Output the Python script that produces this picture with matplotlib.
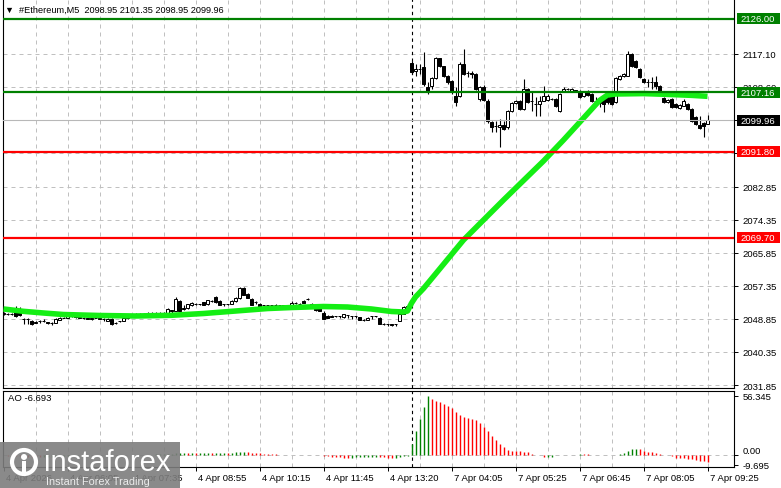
import matplotlib.pyplot as plt
from matplotlib.patches import Rectangle, Ellipse
from matplotlib.transforms import ScaledTranslation, blended_transform_factory

plt.rcParams['font.family'] = ['Liberation Sans', 'DejaVu Sans']
plt.rcParams['font.size'] = 6.8

# === Datos (ETH M5, 177 velas) ===
opens = [
    2050.11, 2050.11, 2050.2, 2050.63, 2051.1, 2048.9, 2048.8, 2048.3, 2047.9, 2048.2,
    2048.3, 2048.0, 2047.8, 2047.9, 2048.6, 2049.1, 2049.1, 2049.5, 2049.7, 2049.4,
    2049.2, 2049.0, 2048.7, 2049.2, 2049.1, 2048.8, 2048.3, 2048.8, 2047.7, 2048.2,
    2048.3, 2049.0, 2049.4, 2049.9, 2050.1, 2050.0, 2050.2, 2050.3, 2050.4, 2050.4,
    2050.4, 2050.4, 2051.1, 2050.9, 2053.5, 2051.5, 2051.6, 2052.3, 2052.7, 2052.7,
    2053.2, 2052.6, 2053.5, 2054.5, 2053.4, 2052.6, 2052.6, 2052.7, 2053.4, 2054.2,
    2056.8, 2055.2, 2054.0, 2053.1, 2052.7, 2052.4, 2052.4, 2052.3, 2052.4, 2052.4,
    2052.3, 2052.1, 2052.2, 2052.9, 2052.8, 2053.4, 2053.9, 2052.7, 2051.9, 2051.6,
    2050.4, 2049.6, 2049.7, 2049.5, 2049.6, 2049.3, 2049.8, 2049.6, 2049.5, 2049.3,
    2048.6, 2048.6, 2049.6, 2049.5, 2049.1, 2047.6, 2047.5, 2047.5, 2047.5, 2048.3,
    2050.1, 2052.0, 2114.67, 2112.6, 2113.1, 2113.56, 2108.4, 2108.68, 2110.73, 2115.88,
    2113.8, 2111.4, 2110.1, 2106.26, 2106.26, 2114.41, 2112.0, 2112.0, 2111.84, 2105.41,
    2108.5, 2104.9, 2099.5, 2098.5, 2098.2, 2098.7, 2098.2, 2102.3, 2104.4, 2104.9,
    2102.8, 2107.98, 2105.0, 2104.2, 2104.1, 2105.0, 2105.2, 2105.5, 2105.4, 2102.4,
    2107.55, 2108.0, 2107.4, 2107.6, 2107.55, 2106.2, 2107.5, 2106.7, 2105.0, 2104.6,
    2106.26, 2105.85, 2106.26, 2104.55, 2110.5, 2111.3, 2111.4, 2116.98, 2115.3, 2113.13,
    2110.55, 2109.7, 2109.9, 2109.7, 2108.83, 2105.6, 2104.55, 2105.41, 2104.12, 2103.0,
    2103.7, 2104.12, 2102.84, 2100.7, 2098.72, 2099.2, 2098.95,
]
highs = [
    2050.63, 2050.37, 2050.4, 2052.17, 2051.9, 2049.1, 2049.0, 2048.6, 2048.2, 2048.6,
    2048.7, 2048.1, 2048.0, 2049.0, 2049.3, 2049.3, 2049.8, 2050.0, 2049.9, 2049.6,
    2049.3, 2049.2, 2049.3, 2049.4, 2049.2, 2049.1, 2049.1, 2049.0, 2048.1, 2048.4,
    2049.2, 2049.7, 2050.1, 2050.3, 2050.3, 2050.4, 2050.5, 2050.6, 2050.5, 2050.5,
    2050.6, 2051.6, 2051.2, 2054.5, 2053.7, 2052.3, 2052.8, 2053.1, 2053.0, 2052.8,
    2053.3, 2053.8, 2053.6, 2054.8, 2053.6, 2052.8, 2052.8, 2053.6, 2054.4, 2057.0,
    2057.0, 2055.4, 2054.2, 2053.5, 2052.9, 2052.5, 2052.5, 2052.5, 2052.6, 2052.5,
    2052.4, 2052.5, 2053.4, 2053.3, 2052.9, 2053.6, 2054.1, 2052.9, 2052.0, 2051.8,
    2050.9, 2049.8, 2049.8, 2049.7, 2049.7, 2050.2, 2049.9, 2049.7, 2049.6, 2049.4,
    2048.7, 2049.3, 2049.7, 2049.7, 2049.3, 2047.7, 2047.6, 2047.6, 2047.6, 2050.4,
    2052.2, 2052.7, 2115.18, 2114.4, 2114.4, 2117.42, 2109.7, 2110.99, 2116.14, 2116.0,
    2114.0, 2111.6, 2110.4, 2108.42, 2114.84, 2118.27, 2112.6, 2112.6, 2112.1, 2108.8,
    2108.9, 2105.4, 2099.8, 2099.75, 2100.3, 2099.7, 2102.5, 2104.6, 2105.2, 2105.1,
    2110.55, 2108.2, 2107.2, 2105.9, 2106.2, 2108.75, 2106.6, 2105.7, 2105.6, 2106.9,
    2108.4, 2108.2, 2108.3, 2107.8, 2107.8, 2107.4, 2107.8, 2107.0, 2105.9, 2105.4,
    2106.6, 2106.0, 2106.5, 2111.0, 2111.7, 2112.1, 2117.8, 2117.2, 2115.5, 2113.4,
    2110.8, 2110.5, 2111.0, 2111.4, 2109.1, 2105.9, 2105.5, 2105.7, 2104.4, 2104.1,
    2105.3, 2104.4, 2103.1, 2101.0, 2101.1, 2099.5, 2101.35,
]
lows = [
    2049.85, 2049.85, 2049.9, 2049.34, 2049.6, 2047.5, 2047.6, 2047.2, 2047.8, 2047.9,
    2048.0, 2047.6, 2047.2, 2047.7, 2048.5, 2049.0, 2049.0, 2049.3, 2049.2, 2049.0,
    2048.8, 2048.8, 2048.6, 2049.0, 2048.7, 2048.4, 2048.2, 2047.3, 2047.5, 2048.1,
    2048.2, 2048.9, 2049.3, 2049.8, 2049.8, 2049.9, 2050.0, 2050.2, 2050.2, 2049.9,
    2050.1, 2050.3, 2050.1, 2050.8, 2050.9, 2051.2, 2051.5, 2052.2, 2052.4, 2052.5,
    2052.3, 2052.5, 2053.3, 2053.0, 2052.4, 2052.1, 2052.5, 2052.6, 2053.3, 2054.0,
    2054.9, 2054.1, 2052.3, 2052.8, 2051.8, 2051.9, 2052.2, 2052.2, 2052.3, 2052.2,
    2051.9, 2052.0, 2052.1, 2052.7, 2052.6, 2052.9, 2053.8, 2051.8, 2051.0, 2050.8,
    2048.8, 2049.0, 2049.3, 2049.4, 2049.0, 2049.2, 2049.1, 2048.8, 2049.0, 2048.5,
    2048.4, 2048.5, 2048.8, 2049.4, 2047.5, 2047.4, 2047.0, 2047.0, 2046.9, 2048.2,
    2050.0, 2051.8, 2111.84, 2111.3, 2111.8, 2108.83, 2106.7, 2107.98, 2110.5, 2113.7,
    2111.1, 2109.3, 2106.8, 2103.69, 2105.9, 2111.5, 2111.0, 2110.8, 2107.7, 2104.9,
    2104.9, 2099.2, 2096.9, 2096.9, 2093.06, 2097.5, 2097.6, 2102.0, 2104.2, 2102.5,
    2102.6, 2104.4, 2102.3, 2101.0, 2101.0, 2104.8, 2105.0, 2105.2, 2103.4, 2102.0,
    2107.3, 2107.7, 2107.2, 2107.3, 2105.6, 2106.0, 2106.2, 2104.6, 2104.1, 2103.3,
    2102.07, 2104.2, 2103.9, 2104.3, 2110.3, 2111.1, 2111.2, 2113.7, 2113.3, 2110.7,
    2109.4, 2108.5, 2107.98, 2107.98, 2106.8, 2104.4, 2104.3, 2103.0, 2103.0, 2102.8,
    2103.5, 2102.6, 2099.5, 2098.7, 2097.7, 2095.56, 2098.95,
]
closes = [
    2050.37, 2050.11, 2050.0, 2049.60, 2049.85, 2048.8, 2048.7, 2047.5, 2048.0, 2048.3,
    2048.4, 2047.8, 2047.9, 2048.8, 2049.1, 2049.1, 2049.5, 2049.7, 2049.4, 2049.2,
    2049.0, 2048.9, 2049.2, 2049.1, 2048.9, 2048.8, 2048.9, 2047.6, 2047.8, 2048.3,
    2049.0, 2049.4, 2049.9, 2050.1, 2050.0, 2050.2, 2050.3, 2050.4, 2050.3, 2050.3,
    2050.3, 2051.4, 2051.0, 2054.0, 2051.0, 2051.6, 2052.6, 2052.9, 2052.7, 2052.6,
    2052.5, 2053.6, 2053.4, 2053.2, 2052.5, 2052.6, 2052.7, 2053.4, 2054.2, 2056.8,
    2055.0, 2054.2, 2052.4, 2053.2, 2051.9, 2052.4, 2052.3, 2052.4, 2052.4, 2052.3,
    2052.1, 2052.3, 2052.9, 2053.0, 2052.7, 2053.0, 2054.0, 2051.9, 2051.2, 2050.9,
    2048.8, 2049.1, 2049.4, 2049.6, 2049.5, 2050.0, 2049.8, 2049.5, 2049.5, 2048.6,
    2048.6, 2049.1, 2049.5, 2049.6, 2047.6, 2047.5, 2047.5, 2047.4, 2047.5, 2050.1,
    2051.8, 2052.2, 2112.43, 2113.1, 2113.1, 2109.27, 2107.55, 2110.73, 2115.88, 2113.98,
    2111.4, 2109.7, 2107.1, 2104.72, 2114.41, 2111.84, 2112.0, 2111.9, 2107.98, 2108.5,
    2105.2, 2099.75, 2098.2, 2098.4, 2098.7, 2097.7, 2102.3, 2104.4, 2104.9, 2102.8,
    2107.98, 2104.64, 2105.0, 2104.1, 2105.0, 2106.3, 2106.3, 2105.4, 2103.7, 2106.7,
    2107.98, 2107.9, 2108.0, 2107.5, 2105.85, 2107.1, 2106.4, 2105.0, 2105.0, 2104.5,
    2104.1, 2104.55, 2104.12, 2110.73, 2111.4, 2111.84, 2116.98, 2113.98, 2113.56, 2110.99,
    2109.7, 2109.7, 2109.8, 2108.83, 2107.13, 2104.72, 2105.23, 2103.27, 2103.27, 2103.87,
    2104.98, 2102.84, 2099.83, 2098.98, 2097.87, 2098.4, 2099.96,
]

# Media móvil (puntos leídos sobre la línea verde)
ma_idx = [0, 5, 10, 15, 24, 33, 42, 50, 58, 66, 72, 80, 86, 92, 97, 100, 101,
          102, 103, 105, 110, 115, 120, 125, 130, 135, 140, 144, 147, 149, 151,
          153, 160, 166, 172, 176]
ma_val = [2051.4, 2050.8, 2050.37, 2049.98, 2049.73, 2049.60, 2049.78, 2050.24,
          2050.88, 2051.52, 2051.78, 2052.04, 2051.91, 2051.40, 2050.76, 2050.63,
          2050.88, 2052.9, 2054.49, 2056.67, 2062.90, 2069.14, 2074.29, 2079.43,
          2084.45, 2089.46, 2094.86, 2099.37, 2102.76, 2105.02, 2106.44, 2106.7,
          2106.8, 2106.6, 2106.35, 2106.1]

# Awesome Oscillator
ao = [
    -0.5, -0.8, -1.0, -1.2, -1.3, -1.5, -1.6, -1.8, -1.9, -2.0, -1.9, -1.8, -1.7, -1.5, -1.3, -1.1,
    -0.9, -0.7, -0.6, -0.5, -0.5, -0.4, -0.4, -0.3, -0.3, -0.2, -0.2, -0.3, -0.3, -0.2, -0.1, 0.0,
    0.1, 0.2, 0.2, 0.3, 0.3, 0.4, 0.5, 0.6, 0.8, 1.0, 1.2, 1.4, 1.5, 1.6, 1.6, 1.7,
    1.7, 1.8, 1.9, 2.0, 2.0, 2.1, 2.2, 2.3, 2.2, 2.3, 2.4, 2.6, 2.8, 2.7, 2.3, 1.8,
    1.4, 1.0, 0.8, 0.6, 0.5, 0.4, 0.4, 0.3, 0.3, 0.2, 0.2, 0.1, 0.1, 0.0, -0.2, -0.5,
    -0.9, -1.3, -1.7, -2.0, -2.3, -2.5, -2.6, -2.5, -2.4, -2.2, -2.1, -2.0, -1.8, -1.7, -1.9, -2.3,
    -2.7, -3.0, -2.8, -2.2, -1.2, -0.6,
    10.5, 23.2, 34.3, 45.5, 56.345, 53.4, 51.8, 50.3, 48.7, 46.5, 44.5, 40.7, 38.2, 35.9, 35.3, 34.6,
    33.4, 30.5, 26.4, 22.6, 18.4, 14.3, 10.5, 7.3, 4.8, 3.6, 3.5, 3.3, 2.9, 2.6, 1.0, 0.4,
    0.1, -2.2, -1.9, -1.5, -0.5, -0.2, 0.1, 0.2, 0.1, 0.3, 1.0, 0.8, 0.6, 0.3, 0.2, 0.1,
    0.0, -0.1, -0.2, 0.1, 0.5, 1.5, 3.5, 5.7, 5.8, 5.6, 4.2, 3.2, 2.5, 1.8, 0.8, 0.3,
    -0.2, -0.8, -2.5, -2.8, -3.0, -3.5, -4.0, -5.0, -5.5, -6.2, -6.693,
]

price_ticks = [2031.85, 2040.35, 2048.85, 2057.35, 2065.85, 2074.35, 2082.85,
               2091.60, 2100.10, 2108.60, 2117.10]
hidden_ticks = [2091.60, 2100.10]   # tapados por las etiquetas de las líneas
levels = [2126.00, 2107.16, 2091.80, 2069.70]
level_colors = ['#008000', '#008000', '#ff0000', '#ff0000']
bid = 2099.96

time_idx = [0, 16, 32, 48, 64, 80, 96, 112, 128, 144, 160, 176]
time_labels = ['4 Apr 2026', '4 Apr 06:05', '4 Apr 07:35', '4 Apr 08:55',
               '4 Apr 10:15', '4 Apr 11:45', '4 Apr 13:20', '7 Apr 04:05',
               '7 Apr 05:25', '7 Apr 06:45', '7 Apr 08:05', '7 Apr 09:25']
separator_idx = 102

idx = list(range(len(closes)))

# === Figura ===
W, H = 781, 489
fig = plt.figure(figsize=(W / 100, H / 100), dpi=100)


def px_box(l, t, r, b):
    return [l / W, 1 - b / H, (r - l) / W, (b - t) / H]


ax = fig.add_axes(px_box(3, 0, 734, 389))
ax2 = fig.add_axes(px_box(3, 392, 734, 468))
xlim = (-0.125, 182.625)

grid_kw = dict(color='#c0c0c0', lw=0.72, ls=(0, (4, 4)), zorder=0)
sep_kw = dict(color='black', lw=0.8, ls=(0, (3, 3)), zorder=1)

# --- panel principal ---
for v in price_ticks:
    ax.axhline(v, **grid_kw)
for a in (ax, ax2):
    for g in range(8, 183, 8):
        a.axvline(g, **grid_kw)
    a.axvline(separator_idx, **sep_kw)

ax.vlines(idx, lows, highs, color='black', lw=0.8, zorder=2)
body_col = ['white' if c > o else 'black' for o, c in zip(opens, closes)]
ax.bar(idx, [c - o for o, c in zip(opens, closes)], bottom=opens, width=0.72,
       color=body_col, edgecolor='black', linewidth=0.72, zorder=3)

ax.plot(ma_idx, ma_val, color='#14ee14', lw=4.0, solid_capstyle='butt', zorder=4)

ax.axhline(bid, color='#b8b8b8', lw=0.8, zorder=4)
for v, c in zip(levels, level_colors):
    ax.axhline(v, color=c, lw=1.6, zorder=5)

ax.set_xlim(*xlim)
ax.set_ylim(2031.08, 2131.13)
ax.yaxis.tick_right()
ax.set_yticks(price_ticks, ['' if v in hidden_ticks else f'{v:.2f}' for v in price_ticks])
ax.tick_params(axis='y', length=3, width=0.7, pad=3, labelsize=6.8)
ax.tick_params(axis='x', length=0, labelbottom=False)
ax.spines['top'].set_visible(False)

blend = blended_transform_factory(ax.transAxes, ax.transData)
box_h = 2.84
for v, c in list(zip(levels, level_colors)) + [(bid, 'black')]:
    ax.add_patch(Rectangle((1.0 + 3 / 731, v - box_h / 2), 43 / 731, box_h,
                           transform=blend, fc=c, ec='none', clip_on=False, zorder=6))
    ax.text(1.0 + 6 / 731, v, f'{v:.2f}', transform=blend, ha='left', va='center',
            color='white', fontsize=6.8, zorder=7, clip_on=False)

# --- panel AO ---
ao_col = ['#008000' if i > 0 and ao[i] > ao[i - 1] else '#ff0000' for i in idx]
ax2.axhline(0, **grid_kw)
ax2.vlines(idx, 0, ao, colors=ao_col, lw=1.0, zorder=2)
ax2.set_xlim(*xlim)
ax2.set_ylim(-11.5, 61.0)
ax2.yaxis.tick_right()
ax2.set_yticks([56.345, 0.0, -9.695], ['56.345', '0.00', '-9.695'])
ax2.get_yticklabels()[1].set_va('bottom')
ax2.get_yticklabels()[2].set_va('center')
ax2.tick_params(axis='y', length=3, width=0.7, pad=3, labelsize=6.8)
ax2.set_xticks(time_idx, time_labels)
ax2.tick_params(axis='x', length=3, width=0.7, pad=1.5, labelsize=6.8)
shift = ScaledTranslation(2 / 72, 0, fig.dpi_scale_trans)
for lab in ax2.get_xticklabels():
    lab.set_horizontalalignment('left')
    lab.set_transform(lab.get_transform() + shift)
ax2.text(5 / 731, 0.91, 'AO -6.693', transform=ax2.transAxes, ha='left', va='center',
         fontsize=6.8)

for a in (ax, ax2):
    for s in a.spines.values():
        s.set_linewidth(0.8)

# título estilo MT4
fig.text(5 / W, 1 - 10 / H, '\u25bc  #Ethereum,M5  2098.95 2101.35 2098.95 2099.96',
         ha='left', va='center', fontsize=6.6)

# marca de agua instaforex
fig.add_artist(Rectangle((0, 0), 180 / W, 46 / H, transform=fig.transFigure,
                         fc='#7d7d7d', ec='none', alpha=0.9, zorder=10))
fig.add_artist(Ellipse((24 / W, 1 - 463 / H), 24 / W, 24 / H, transform=fig.transFigure,
                       fill=False, ec='white', lw=3, zorder=11))
fig.add_artist(Ellipse((24 / W, 1 - 458 / H), 6 / W, 6 / H, transform=fig.transFigure,
                       fc='white', ec='none', zorder=11))
fig.add_artist(Rectangle((22 / W, 1 - 474 / H), 4 / W, 12 / H, transform=fig.transFigure,
                         fc='white', ec='none', zorder=11))
fig.text(44 / W, 1 - 471 / H, 'instaforex', color='white', fontsize=21,
         ha='left', va='baseline', zorder=12)
fig.text(46 / W, 1 - 485 / H, 'Instant Forex Trading', color='#ececec', fontsize=7.8,
         ha='left', va='baseline', zorder=12)

fig.savefig('out.png', dpi=100, facecolor='white')
